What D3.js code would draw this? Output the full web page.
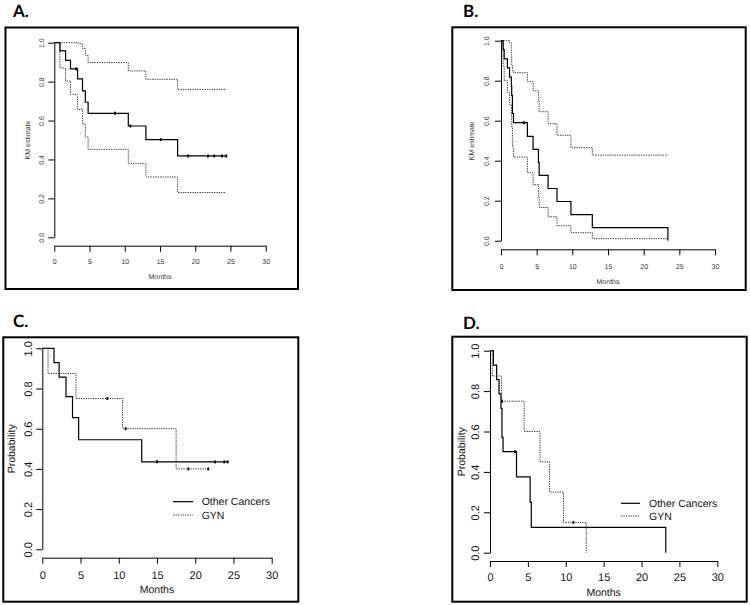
<!DOCTYPE html>
<html>
<head>
<meta charset="utf-8">
<script src="https://cdn.jsdelivr.net/npm/d3@7"></script>
<style>
  html, body { margin: 0; padding: 0; background: #fff; }
  svg { display: block; }
  text { text-rendering: geometricPrecision; -webkit-font-smoothing: antialiased; }
</style>
</head>
<body>
<div id="chart"></div>
<script>
// ---------- shared tick values ----------
const monthTicks = [0, 5, 10, 15, 20, 25, 30];
const probTicks = [0, 0.2, 0.4, 0.6, 0.8, 1.0];

// ---------- Panel A: KM estimate with 95% CI ----------
const aTimes  = [0, 0.8, 1.6, 2.3, 3.3, 4.0, 4.4, 4.8, 10.5, 13.0, 17.5, 24.4];
const aSurv   = [1, 0.958, 0.909, 0.866, 0.814, 0.752, 0.694, 0.637, 0.572, 0.502, 0.418, 0.418];
const aUpper  = [1, 1, 1, 1, 0.995, 0.97, 0.935, 0.898, 0.855, 0.812, 0.76, 0.76];
const aLower  = [1, 0.87, 0.803, 0.735, 0.657, 0.582, 0.515, 0.452, 0.38, 0.31, 0.23, 0.23];
const aCensor = [3.1, 8.6, 10.8, 15.1, 19.0, 21.8, 22.7, 23.8, 24.4];

// ---------- Panel B ----------
const bTimes  = [0, 0.3, 0.45, 0.9, 1.2, 1.45, 1.5, 1.6, 1.75, 3.7, 4.5, 5.25, 5.35, 6.6, 7.85, 9.8, 12.8, 23.4];
const bSurv   = [1, 0.955, 0.909, 0.864, 0.818, 0.773, 0.727, 0.636, 0.59, 0.522, 0.457, 0.392, 0.327, 0.261, 0.196, 0.13, 0.065, 0];
const bUpper  = [1, 1, 1, 1, 0.99, 0.93, 0.88, 0.85, 0.84, 0.795, 0.75, 0.70, 0.645, 0.585, 0.527, 0.465, 0.428, 0.428];
const bLower  = [1, 0.87, 0.80, 0.74, 0.68, 0.62, 0.57, 0.47, 0.418, 0.34, 0.28, 0.22, 0.166, 0.12, 0.075, 0.04, 0.01, 0.01];
const bCensor = [3.2];

// ---------- Panel C: by group ----------
const cOtherTimes  = [0, 1.53, 2.2, 3.1, 3.95, 4.75, 13.0, 24.25];
const cOtherSurv   = [1, 0.929, 0.857, 0.76, 0.655, 0.545, 0.435, 0.435];
const cOtherCensor = [15.0, 22.6, 23.8, 24.25];
const cGynTimes    = [0, 0.75, 4.4, 10.5, 17.5, 21.7];
const cGynSurv     = [1, 0.875, 0.75, 0.6, 0.4, 0.4];
const cGynCensor   = [8.5, 10.9, 19.1, 21.7];

// ---------- Panel D: by group ----------
const dOtherTimes  = [0, 0.44, 0.88, 1.19, 1.45, 1.58, 1.72, 3.5, 5.3, 5.45, 23.2];
const dOtherSurv   = [1, 0.929, 0.857, 0.786, 0.714, 0.571, 0.5, 0.375, 0.25, 0.125, 0];
const dOtherCensor = [3.3];
const dGynTimes    = [0, 0.3, 1.5, 4.5, 6.6, 7.85, 9.7, 12.7];
const dGynSurv     = [1, 0.875, 0.75, 0.6, 0.45, 0.3, 0.15, 0];
const dGynCensor   = [1.6, 11.0];

const legendLabels = ["Other Cancers", "GYN"];
const panelLabels = ["A.", "B.", "C.", "D."];

// ---------- drawing ----------
const W = 750, H = 605;
const svg = d3.select("#chart").append("svg").attr("width", W).attr("height", H);

const SOLID = { stroke: "#000", width: 1.2, dash: null };
const DOTTED = { stroke: "#444", width: 1, dash: "1.4,1" };

function zip(t, s) { return t.map((d, i) => [d, s[i]]); }
function valueAt(t, s, time) {
  let v = s[0];
  for (let i = 0; i < t.length; i++) if (t[i] <= time) v = s[i];
  return v;
}

function panel(cfg) {
  const g = svg.append("g");
  const font = "'Liberation Sans', Arial, Helvetica, sans-serif";

  g.append("rect")
    .attr("x", cfg.box[0]).attr("y", cfg.box[1])
    .attr("width", cfg.box[2] - cfg.box[0]).attr("height", cfg.box[3] - cfg.box[1])
    .attr("fill", "none").attr("stroke", "#000").attr("stroke-width", 2);

  svg.append("text")
    .attr("x", cfg.title[0]).attr("y", cfg.title[1])
    .attr("font-family", "Lato, 'Open Sans', sans-serif").attr("font-weight", "bold")
    .attr("font-size", 17).attr("fill", "#000").text(cfg.label);

  const x = d3.scaleLinear().domain([0, 30]).range([cfg.x0, cfg.x1]);
  const y = d3.scaleLinear().domain([0, 1]).range([cfg.y0, cfg.y1]);

  const ya = g.append("g").attr("transform", `translate(${cfg.x0},0)`)
    .call(d3.axisLeft(y).tickValues(probTicks).tickFormat(d3.format(".1f"))
      .tickSizeInner(cfg.tick).tickSizeOuter(0));
  ya.selectAll("text")
    .attr("transform", "rotate(-90)")
    .attr("x", 0).attr("y", -cfg.yTickOff).attr("dy", "0.35em")
    .attr("text-anchor", "middle");

  const xa = g.append("g").attr("transform", `translate(0,${cfg.xAxisY})`)
    .call(d3.axisBottom(x).tickValues(monthTicks).tickFormat(d3.format("d"))
      .tickSizeInner(cfg.tick).tickSizeOuter(0));
  xa.selectAll("text").attr("y", cfg.xTickOff).attr("dy", "0.35em");

  [ya, xa].forEach(a => {
    a.attr("font-family", font).attr("font-size", cfg.tickFont);
    a.selectAll("text").attr("fill", cfg.textColor).attr("opacity", 0.99);
    a.selectAll("path,line").attr("stroke", "#000").attr("stroke-width", 1);
  });

  g.append("text").attr("x", (cfg.x0 + cfg.x1) / 2).attr("y", cfg.xTitleY).attr("dy", "0.35em")
    .attr("text-anchor", "middle").attr("font-family", font).attr("font-size", cfg.labFont)
    .attr("fill", cfg.textColor).attr("opacity", 0.99).text("Months");
  g.append("text").attr("transform", `translate(${cfg.yTitleX},${(cfg.y0 + cfg.y1) / 2}) rotate(-90)`)
    .attr("dy", "0.35em").attr("text-anchor", "middle").attr("font-family", font)
    .attr("font-size", cfg.labFont).attr("fill", cfg.textColor).text(cfg.yTitle);

  const line = d3.line().x(d => x(d[0])).y(d => y(d[1])).curve(d3.curveStepAfter);

  cfg.series.forEach(s => {
    const st = s.style;
    g.append("path").attr("d", line(zip(s.t, s.v)))
      .attr("fill", "none").attr("stroke", st.stroke).attr("stroke-width", st.width)
      .attr("stroke-dasharray", st.dash);
    if (s.censor) {
      g.selectAll(null).data(s.censor).enter().append("line")
        .attr("x1", d => x(d)).attr("x2", d => x(d))
        .attr("y1", d => y(valueAt(s.t, s.v, d)) - 1.5)
        .attr("y2", d => y(valueAt(s.t, s.v, d)) + 1.5)
        .attr("stroke", "#000").attr("stroke-width", 1.8);
    }
  });

  if (cfg.legend) {
    const L = cfg.legend;
    [SOLID, DOTTED].forEach((st, i) => {
      const yy = L.y[i];
      g.append("line").attr("x1", L.x0).attr("x2", L.x1).attr("y1", yy).attr("y2", yy)
        .attr("stroke", st.stroke).attr("stroke-width", st.width).attr("stroke-dasharray", st.dash);
      g.append("text").attr("x", L.tx).attr("y", yy).attr("dy", "0.35em")
        .attr("font-family", font).attr("font-size", cfg.labFont).attr("fill", cfg.textColor)
        .attr("opacity", 0.99).text(legendLabels[i]);
    });
  }
}

panel({
  label: panelLabels[0], title: [13, 17],
  box: [5.5, 27.5, 298, 289],
  x0: 54.3, x1: 265.7, y0: 237.3, y1: 42.7, xAxisY: 245.7, tick: 6,
  yTickOff: 12.6, xTickOff: 16, xTitleY: 276.7, yTitleX: 28, yTitle: "KM estimate",
  tickFont: 7, labFont: 7, textColor: "#333",
  series: [
    { t: aTimes, v: aUpper, style: DOTTED },
    { t: aTimes, v: aLower, style: DOTTED },
    { t: aTimes, v: aSurv, style: SOLID, censor: aCensor }
  ]
});

panel({
  label: panelLabels[1], title: [463, 17],
  box: [452.3, 27.3, 745.7, 290],
  x0: 501, x1: 715, y0: 240.7, y1: 40.7, xAxisY: 249.3, tick: 6,
  yTickOff: 14.3, xTickOff: 17.4, xTitleY: 281.7, yTitleX: 471.7, yTitle: "KM estimate",
  tickFont: 7, labFont: 7, textColor: "#333",
  series: [
    { t: bTimes, v: bUpper, style: DOTTED },
    { t: bTimes, v: bLower, style: DOTTED },
    { t: bTimes, v: bSurv, style: SOLID, censor: bCensor }
  ]
});

panel({
  label: panelLabels[2], title: [13, 327],
  box: [3.3, 337.3, 298.3, 601.7],
  x0: 42.3, x1: 271.7, y0: 549.3, y1: 348.3, xAxisY: 557.7, tick: 6,
  yTickOff: 14.3, xTickOff: 17, xTitleY: 589.3, yTitleX: 11.7, yTitle: "Probability",
  tickFont: 11, labFont: 10.5, textColor: "#111",
  series: [
    { t: cOtherTimes, v: cOtherSurv, style: SOLID, censor: cOtherCensor },
    { t: cGynTimes, v: cGynSurv, style: DOTTED, censor: cGynCensor }
  ],
  legend: { x0: 173, x1: 193, tx: 201.7, y: [501.7, 515] }
});

panel({
  label: panelLabels[3], title: [463, 328.5],
  box: [452.3, 336.7, 746.7, 601.7],
  x0: 490, x1: 717.3, y0: 552.7, y1: 350.7, xAxisY: 561, tick: 6,
  yTickOff: 15, xTickOff: 15.7, xTitleY: 592.3, yTitleX: 461, yTitle: "Probability",
  tickFont: 11, labFont: 10.5, textColor: "#111",
  series: [
    { t: dOtherTimes, v: dOtherSurv, style: SOLID, censor: dOtherCensor },
    { t: dGynTimes, v: dGynSurv, style: DOTTED, censor: dGynCensor }
  ],
  legend: { x0: 621, x1: 640, tx: 649, y: [503.3, 516] }
});
</script>
</body>
</html>
